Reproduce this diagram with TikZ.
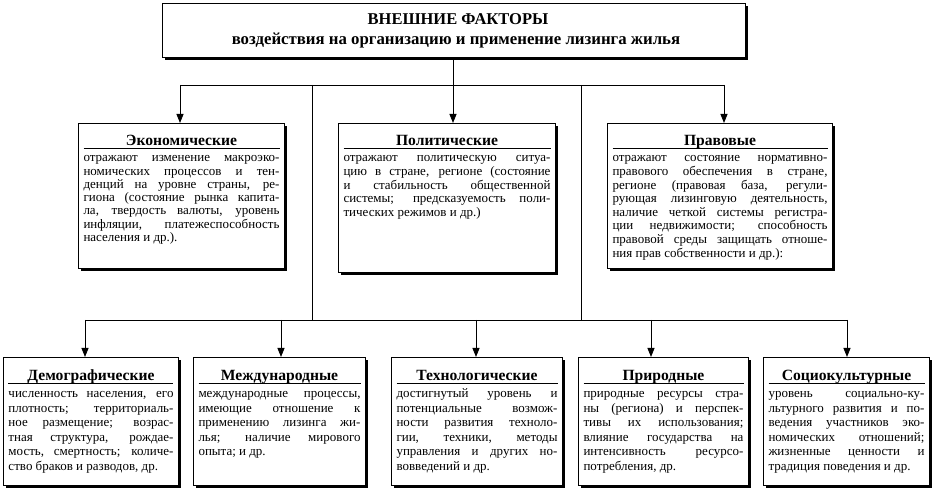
\documentclass[tikz,border=0pt]{standalone}
\usepackage{fontspec}
\setmainfont{Liberation Serif}
\usetikzlibrary{arrows.meta,shadows}

\newcommand{\jl}[1]{\hbox to \linewidth{\strut#1}}
\newcommand{\lastl}[1]{\hbox to \linewidth{\strut#1\hfil}}
% width, body baselineskip, title, lines
\newcommand{\factortext}[4]{\parbox[t]{#1}{%
  \hbox to \linewidth{\hfil\smash{\fontsize{15.6}{16}\selectfont\bfseries #3}\hfil}%
  \vspace{3pt}\hrule height 1pt\vspace{3.2pt}%
  \fontsize{13}{#2}\selectfont #4}}

\tikzset{
  box/.style={draw=black, line width=1pt, fill=white, rectangle, inner sep=0pt,
    drop shadow={shadow xshift=2.5pt, shadow yshift=-2.5pt, opacity=1, fill=black}},
  txt/.style={inner sep=0pt, anchor=north},
  line/.style={draw=black, line width=0.9pt},
  arr/.style={line, -{Triangle[length=9pt,width=7pt]}}
}

\begin{document}
\begin{tikzpicture}[x=1pt,y=-1pt]
\fill[white] (0,0) rectangle (932,494);
\useasboundingbox (0,0) rectangle (932,494);

% top box
\node[box, minimum width=583pt, minimum height=54pt, anchor=north west] (top) at (162,3) {};
\node[inner sep=0pt, anchor=base] (t1) at (458,25) {\fontsize{16.5}{20}\selectfont\bfseries ВНЕШНИЕ ФАКТОРЫ};
\node[inner sep=0pt, anchor=base] (t2) at (456,45) {\fontsize{16.8}{20}\selectfont\bfseries воздействия на организацию и применение лизинга жилья};

% upper boxes
\node[box, minimum width=206pt, minimum height=145pt, anchor=north west] (econ) at (78,123) {};
\node[box, minimum width=217pt, minimum height=149pt, anchor=north west] (pol) at (338,123) {};
\node[box, minimum width=225pt, minimum height=145pt, anchor=north west] (legal) at (607,123) {};

\node[txt] (econt) at ([yshift=-22pt]econ.north) {\factortext{196pt}{13.3}{Экономические}{%
  \jl{отражают изменение макроэко-}
  \jl{номических процессов и тен-}
  \jl{денций на уровне страны, ре-}
  \jl{гиона (состояние рынка капита-}
  \jl{ла, твердость валюты, уровень}
  \jl{инфляции, платежеспособность}
  \lastl{населения и др.).}}};

\node[txt] (polt) at ([yshift=-22pt]pol.north) {\factortext{207pt}{13.6}{Политические}{%
  \jl{отражают политическую ситуа-}
  \jl{цию в стране, регионе (состояние}
  \jl{и стабильность общественной}
  \jl{системы; предсказуемость поли-}
  \lastl{тических режимов и др.)}}};

\node[txt] (legalt) at ([yshift=-22pt]legal.north) {\factortext{215pt}{13.6}{Правовые}{%
  \jl{отражают состояние нормативно-}
  \jl{правового обеспечения в стране,}
  \jl{регионе (правовая база, регули-}
  \jl{рующая лизинговую деятельность,}
  \jl{наличие четкой системы регистра-}
  \jl{ции недвижимости; способность}
  \jl{правовой среды защищать отноше-}
  \lastl{ния прав собственности и др.):}}};

% lower boxes
\node[box, minimum width=175pt, minimum height=128pt, anchor=north west] (demo) at (3,357) {};
\node[box, minimum width=172pt, minimum height=128pt, anchor=north west] (intl) at (193,357) {};
\node[box, minimum width=171pt, minimum height=128pt, anchor=north west] (tech) at (391,357) {};
\node[box, minimum width=170pt, minimum height=128pt, anchor=north west] (nat) at (578,357) {};
\node[box, minimum width=166pt, minimum height=128pt, anchor=north west] (soc) at (763,357) {};

\node[txt] (demot) at ([yshift=-23pt]demo.north) {\factortext{165pt}{14.5}{Демографические}{%
  \jl{численность населения, его}
  \jl{плотность; территориаль-}
  \jl{ное размещение; возрас-}
  \jl{тная структура, рождае-}
  \jl{мость, смертность; количе-}
  \lastl{ство браков и разводов, др.}}};

\node[txt] (intlt) at ([yshift=-23pt]intl.north) {\factortext{162pt}{14.5}{Международные}{%
  \jl{международные процессы,}
  \jl{имеющие отношение к}
  \jl{применению лизинга жи-}
  \jl{лья; наличие мирового}
  \lastl{опыта; и др.}}};

\node[txt] (techt) at ([yshift=-23pt]tech.north) {\factortext{161pt}{14.5}{Технологические}{%
  \jl{достигнутый уровень и}
  \jl{потенциальные возмож-}
  \jl{ности развития техноло-}
  \jl{гии, техники, методы}
  \jl{управления и других но-}
  \lastl{вовведений и др.}}};

\node[txt] (natt) at ([yshift=-23pt]nat.north) {\factortext{160pt}{14.5}{Природные}{%
  \jl{природные ресурсы стра-}
  \jl{ны (региона) и перспек-}
  \jl{тивы их использования;}
  \jl{влияние государства на}
  \jl{интенсивность ресурсо-}
  \lastl{потребления, др.}}};

\node[txt] (soct) at ([yshift=-23pt]soc.north) {\factortext{156pt}{14.5}{Социокультурные}{%
  \jl{уровень социально-ку-}
  \jl{льтурного развития и по-}
  \jl{ведения участников эко-}
  \jl{номических отношений;}
  \jl{жизненные ценности и}
  \lastl{традиция поведения и др.}}};

% connectors
\coordinate (hL) at (180,85);
\coordinate (hR) at (724,85);
\coordinate (hC) at (453,85);
\coordinate (d1) at (312,85);
\coordinate (d2) at (581,85);
\coordinate (lL) at (85,320);
\coordinate (lR) at (847,320);
\coordinate (a2) at (281,320);
\coordinate (a3) at (476,320);
\coordinate (a4) at (651,320);

\draw[line] (top.south -| hC) -- (hC);
\draw[line] (hL) -- (hR);
\draw[arr] (hL) -- (hL |- econ.north);
\draw[arr] (hC) -- (hC |- pol.north);
\draw[arr] (hR) -- (hR |- legal.north);
\draw[line] (d1) -- (d1 |- lL);
\draw[line] (d2) -- (d2 |- lL);
\draw[line] (lL) -- (lR);
\draw[arr] (lL) -- (lL |- demo.north);
\draw[arr] (a2) -- (a2 |- intl.north);
\draw[arr] (a3) -- (a3 |- tech.north);
\draw[arr] (a4) -- (a4 |- nat.north);
\draw[arr] (lR) -- (lR |- soc.north);
\end{tikzpicture}
\end{document}
